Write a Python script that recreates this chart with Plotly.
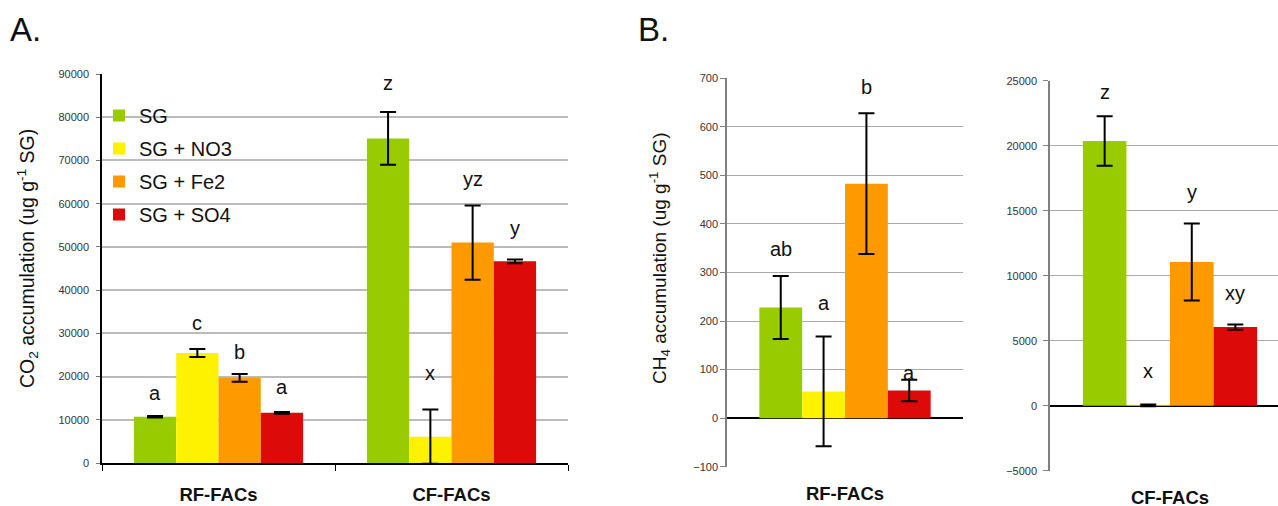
import plotly.graph_objects as go

# ---------------- data ----------------
groups = ["RF-FACs", "CF-FACs"]
treatments = ["SG", "SG + NO3", "SG + Fe2", "SG + SO4"]
colors = ["#99CC00", "#FFF200", "#FF9900", "#DD0A0A"]

# Panel A: CO2 (per treatment: [RF, CF])
co2_sg = [10700, 75100]
co2_no3 = [25450, 6100]
co2_fe2 = [19700, 51000]
co2_so4 = [11600, 46650]
co2_sg_err = [200, 6100]
co2_no3_err = [900, 6300]
co2_fe2_err = [900, 8600]
co2_so4_err = [200, 450]
co2_letters = [["a", "z"], ["c", "x"], ["b", "yz"], ["a", "y"]]
co2_letter_y = [[16240, 87940], [32480, 20880], [25750, 65660], [17630, 54290]]

# Panel B: CH4, RF-FACs (per treatment)
ch4_rf = [228, 55, 483, 57]
ch4_rf_err = [65, 113, 145, 22]
ch4_rf_letters = ["ab", "a", "b", "a"]
ch4_rf_letter_y = [349, 237, 682, 92]

# Panel B: CH4, CF-FACs (per treatment)
ch4_cf = [20360, 25, 11050, 6050]
ch4_cf_err = [1900, 60, 2960, 200]
ch4_cf_letters = ["z", "x", "y", "xy"]
ch4_cf_letter_y = [24150, 2690, 16460, 8640]

co2_vals = [co2_sg, co2_no3, co2_fe2, co2_so4]
co2_errs = [co2_sg_err, co2_no3_err, co2_fe2_err, co2_so4_err]

# ---------------- figure ----------------
W, H = 1278, 506
FONT = "Arial, Liberation Sans, Helvetica, sans-serif"
BARGAP = 0.274
fig = go.Figure()

def px_x(p):
    return p / W

def px_y(p):
    return (H - p) / H

err_style = dict(type="data", visible=True, color="#000000", thickness=2, width=8)

# Panel A traces
for i, t in enumerate(treatments):
    fig.add_trace(go.Bar(
        x=groups, y=co2_vals[i], name=t, marker=dict(color=colors[i], line=dict(width=0)),
        error_y=dict(array=co2_errs[i], **err_style),
        xaxis="x", yaxis="y", showlegend=True, legendgroup=t,
    ))

# Panel B1 traces (RF)
for i, t in enumerate(treatments):
    fig.add_trace(go.Bar(
        x=[groups[0]], y=[ch4_rf[i]], name=t, marker=dict(color=colors[i], line=dict(width=0)),
        error_y=dict(array=[ch4_rf_err[i]], **err_style),
        xaxis="x2", yaxis="y2", showlegend=False, offsetgroup=str(i),
    ))

# Panel B2 traces (CF)
for i, t in enumerate(treatments):
    fig.add_trace(go.Bar(
        x=[groups[1]], y=[ch4_cf[i]], name=t, marker=dict(color=colors[i], line=dict(width=0)),
        error_y=dict(array=[ch4_cf_err[i]], **err_style),
        xaxis="x3", yaxis="y3", showlegend=False, offsetgroup=str(i),
    ))

# letters
bw = (1 - BARGAP) / 4
ann = []
lf = dict(size=20, color="#111111", family=FONT)
for i in range(4):
    off = (i - 1.5) * bw
    for g in range(2):
        ann.append(dict(x=g + off, y=co2_letter_y[i][g], xref="x", yref="y", text=co2_letters[i][g],
                        showarrow=False, font=lf))
    ann.append(dict(x=0 + off, y=ch4_rf_letter_y[i], xref="x2", yref="y2", text=ch4_rf_letters[i],
                    showarrow=False, font=lf))
    ann.append(dict(x=0 + off, y=ch4_cf_letter_y[i], xref="x3", yref="y3", text=ch4_cf_letters[i],
                    showarrow=False, font=lf))

# panel labels and axis titles
ann.append(dict(x=px_x(8), y=px_y(29), xref="paper", yref="paper", xanchor="left", yanchor="middle",
                text="A.", showarrow=False, font=dict(size=33, color="#111111", family=FONT)))
ann.append(dict(x=px_x(636), y=px_y(29), xref="paper", yref="paper", xanchor="left", yanchor="middle",
                text="B.", showarrow=False, font=dict(size=33, color="#111111", family=FONT)))
ann.append(dict(x=px_x(28), y=px_y(259), xref="paper", yref="paper", xanchor="center", yanchor="middle",
                textangle=-90, text="CO<sub>2</sub> accumulation (ug g<sup>-1</sup> SG)", showarrow=False,
                font=dict(size=19.5, color="#111111", family=FONT)))
ann.append(dict(x=px_x(660), y=px_y(258), xref="paper", yref="paper", xanchor="center", yanchor="middle",
                textangle=-90, text="CH<sub>4</sub> accumulation (ug g<sup>-1</sup> SG)", showarrow=False,
                font=dict(size=19, color="#111111", family=FONT)))

tickfont = dict(size=11, color="#333333", family=FONT)
catfont = dict(size=18.5, color="#111111", family=FONT, weight="bold")

# white box behind the legend (hides gridlines, keeps axis line)
legend_box = dict(type="rect", xref="paper", yref="paper", layer="between",
                  x0=px_x(103.5), x1=px_x(271), y0=px_y(236), y1=px_y(84),
                  fillcolor="white", line=dict(width=0))

fig.update_layout(
    width=W, height=H,
    margin=dict(l=0, r=0, t=0, b=0, autoexpand=False),
    paper_bgcolor="white", plot_bgcolor="white",
    barmode="group", bargap=BARGAP, bargroupgap=0,
    font=dict(family=FONT),
    annotations=ann,
    shapes=[legend_box],
    legend=dict(x=px_x(99), y=px_y(96), xanchor="left", yanchor="top", bgcolor="rgba(0,0,0,0)",
                font=dict(size=20, color="#111111", family=FONT), tracegroupgap=4,
                traceorder="grouped", itemwidth=30),
    xaxis=dict(domain=[px_x(102), px_x(568)], anchor="y", type="category", automargin=False,
               showline=True, linecolor="#000000", linewidth=1.5, ticks="outside", tickson="boundaries",
               ticklen=6, tickcolor="#000000", tickfont=catfont, ticklabelstandoff=14,
               showgrid=False, range=[-0.5, 1.5]),
    yaxis=dict(domain=[px_y(463), px_y(74)], anchor="x", range=[0, 90000], dtick=10000,
               tickformat="d", automargin=False, ticklabelstandoff=5,
               showline=True, linecolor="#000000", linewidth=1.5, ticks="outside", ticklen=4,
               tickcolor="#777777", showgrid=True, gridcolor="#BBBBBB", gridwidth=1.5,
               tickfont=tickfont, zeroline=False),
    xaxis2=dict(domain=[px_x(727), px_x(963)], anchor="y2", type="category", automargin=False,
                showline=False, ticks="", tickfont=catfont, ticklabelstandoff=14,
                showgrid=False, range=[-0.5, 0.5]),
    yaxis2=dict(domain=[px_y(466.7), px_y(78.3)], anchor="x2", range=[-100, 700], dtick=100,
                tickformat="d", automargin=False,
                showline=True, linecolor="#808080", linewidth=1.5, ticks="outside", ticklen=5,
                tickcolor="#808080", showgrid=True, gridcolor="#AAAAAA", gridwidth=1.2,
                zeroline=True, zerolinecolor="#000000", zerolinewidth=1.5, tickfont=tickfont),
    xaxis3=dict(domain=[px_x(1050), 1.0], anchor="y3", type="category", automargin=False,
                showline=False, ticks="", tickfont=catfont, ticklabelstandoff=14,
                showgrid=False, range=[-0.5, 0.45]),
    yaxis3=dict(domain=[px_y(470.7), px_y(80.7)], anchor="x3", range=[-5000, 25000], dtick=5000,
                tickformat="d", automargin=False, ticklabelstandoff=4,
                showline=True, linecolor="#808080", linewidth=1.5, ticks="outside", ticklen=5,
                tickcolor="#808080", showgrid=True, gridcolor="#AAAAAA", gridwidth=1.2,
                zeroline=True, zerolinecolor="#000000", zerolinewidth=1.5, tickfont=tickfont),
)

fig.write_html("out.html", config={"displayModeBar": False},
               post_script="document.body.style.margin='0';document.body.style.overflow='hidden';")
